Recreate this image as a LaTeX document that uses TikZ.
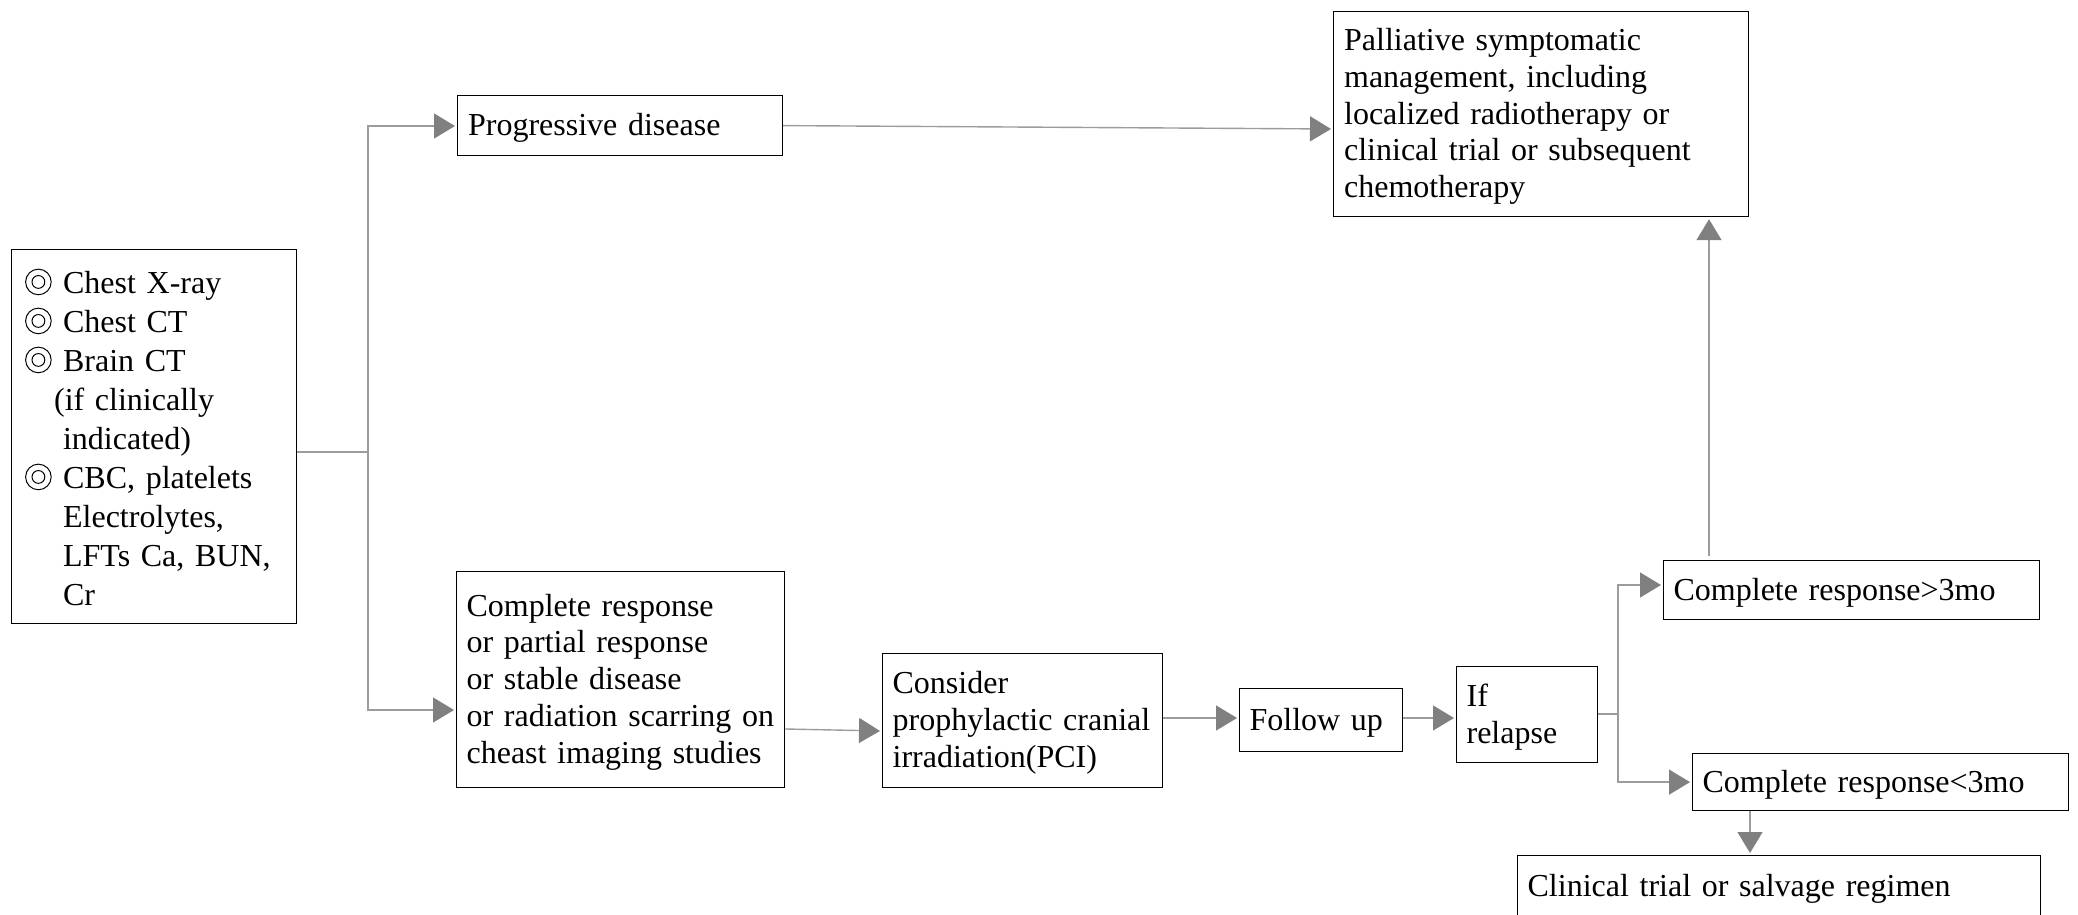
\documentclass[tikz,border=0pt]{standalone}
\usepackage{fontspec}
\setmainfont{Liberation Serif}
\usetikzlibrary{arrows.meta}
\definecolor{linegray}{HTML}{9C9C9C}
\definecolor{tipgray}{HTML}{808080}
\newcommand{\bul}{\makebox[20.5pt][l]{\hspace*{1.5pt}\smash{\tikz[baseline=-6pt]{\draw[black, line width=0.5pt] (0,0) circle (6.4pt) (0,0) circle (3.2pt);}}}}
\newcommand{\ind}{\hspace*{20.5pt}}
\begin{document}
\begin{tikzpicture}[x=0.5pt,y=-0.5pt,
  box/.style={draw=black, line width=0.6pt, rectangle, anchor=north west,
    inner xsep=5pt, inner ysep=0pt, align=left,
    execute at begin node={\rule{0pt}{13.5pt}},
    font=\fontsize{16}{18.4}\selectfont},
  ln/.style={draw=linegray, line width=0.7pt},
  arr/.style={ln, -{Triangle[length=10.5pt,width=12.5pt,color=tipgray]}, shorten >=1pt}]
\useasboundingbox (0,0) rectangle (2078,915);

\node[box, minimum width=142.5pt, minimum height=187pt, text width=132pt,
  font=\fontsize{16}{19.5}\selectfont] (L) at (11,249)
  {\bul Chest X-ray\\ \bul Chest CT\\ \bul Brain CT\\ \hspace*{16pt}(if clinically\\ \ind indicated)\\ \bul CBC, platelets\\ \ind Electrolytes,\\ \ind LFTs Ca, BUN,\\ \ind Cr};
\node[box, minimum width=162.5pt, minimum height=30pt, text width=152pt] (P) at (457,95) {Progressive disease};
\node[box, minimum width=207.5pt, minimum height=102.5pt, text width=197pt] (Pal) at (1333,11)
  {Palliative symptomatic\\ management, including\\ localized radiotherapy or\\ clinical trial or subsequent\\ chemotherapy};
\node[box, minimum width=164pt, minimum height=108pt, text width=154pt] (CR) at (456,571)
  {Complete response\\ or partial response\\ or stable disease\\ or radiation scarring on\\ cheast imaging studies};
\node[box, minimum width=140pt, minimum height=67pt, text width=130pt] (PCI) at (882,653)
  {Consider\\ prophylactic cranial\\ irradiation(PCI)};
\node[box, minimum width=81.5pt, minimum height=31.5pt, text width=71.5pt] (FU) at (1239,688) {Follow up};
\node[box, minimum width=70.5pt, minimum height=48pt, text width=60.5pt] (IR) at (1456,666) {If\\ relapse};
\node[box, minimum width=188pt, minimum height=29.5pt, text width=178pt] (G3) at (1663,560) {Complete response>3mo};
\node[box, minimum width=188pt, minimum height=28.5pt, text width=178pt] (L3) at (1692,753) {Complete response<3mo};
\node[box, minimum width=261.5pt, minimum height=31pt, text width=251.5pt] (CT) at (1517,855) {Clinical trial or salvage regimen};

\coordinate (j1) at (368,452);
\coordinate (j2) at (1618,714);
\draw[ln] (L.east |- j1) -- (j1);
\draw[arr] (j1) |- (P.west |- 0,126);
\draw[arr] (j1) |- (CR.west |- 0,710);
\draw[arr] (P.east) -- (Pal.west |- 0,129);
\draw[arr] (CR.east |- 0,729) -- (PCI.west |- 0,731);
\draw[arr] (PCI.east |- 0,718) -- (FU.west |- 0,718);
\draw[arr] (FU.east |- 0,718) -- (IR.west |- 0,718);
\draw[ln] (IR.east |- j2) -- (j2);
\draw[arr] (j2) |- (G3.west |- 0,585);
\draw[arr] (j2) |- (L3.west);
\draw[arr] (G3.north -| 1709,0) ++(0,-4) -- (Pal.south -| 1709,0);
\draw[arr] (L3.south -| 1750,0) -- (CT.north -| 1750,0);
\end{tikzpicture}
\end{document}
